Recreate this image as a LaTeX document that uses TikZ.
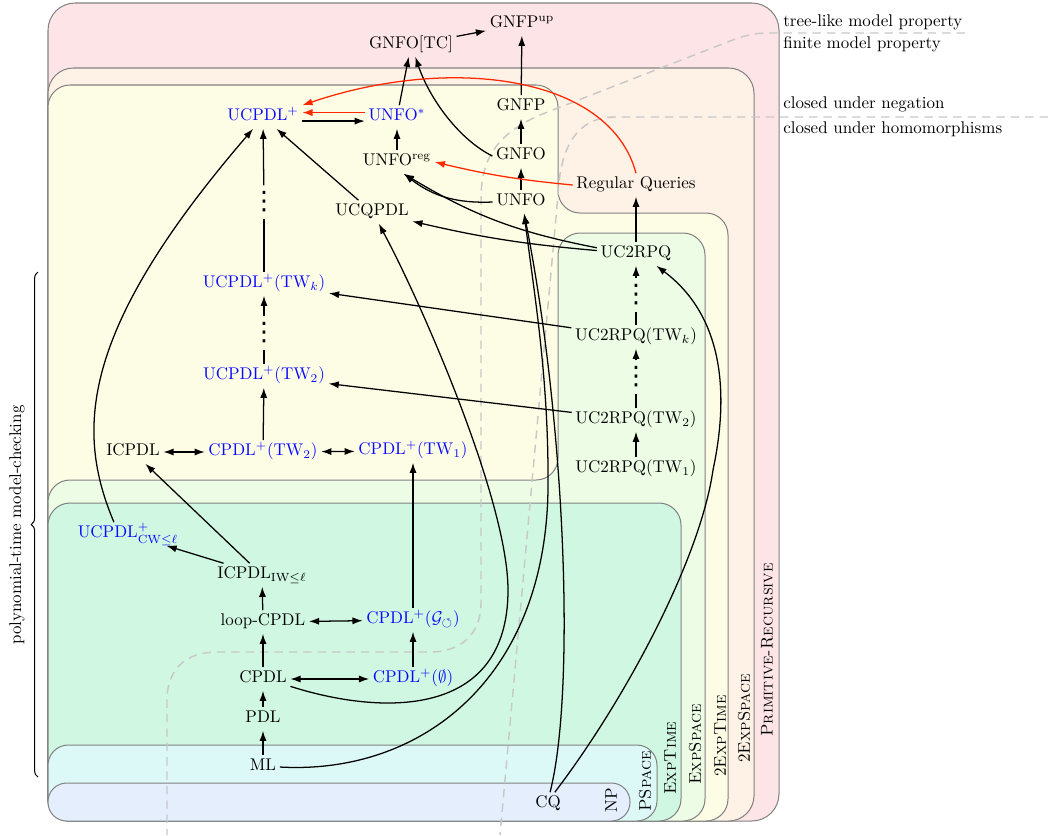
\documentclass[tikz,border=0pt]{standalone}
\usepackage{amssymb}
\usepackage{fontspec}
\newfontfamily\djv{DejaVu Sans}
\usetikzlibrary{arrows.meta,decorations.pathreplacing}
\definecolor{cPR}{RGB}{253,228,230}
\definecolor{cESb}{RGB}{254,241,229}
\definecolor{cETb}{RGB}{253,253,229}
\definecolor{cES}{RGB}{237,253,229}
\definecolor{cET}{RGB}{207,247,226}
\definecolor{cPS}{RGB}{221,249,247}
\definecolor{cNP}{RGB}{228,238,253}
\definecolor{bordergray}{RGB}{130,130,130}
\definecolor{dashgray}{RGB}{200,200,200}
\definecolor{myred}{RGB}{255,40,0}
\definecolor{myblue}{RGB}{10,10,255}
\begin{document}
\begin{tikzpicture}[x=0.59pt,y=-0.59pt,
  lbl/.style={inner sep=2pt, text height=7pt, text depth=2.5pt},
  blu/.style={lbl, text=myblue},
  dotsnode/.style={inner sep=3.5pt, font=\djv\fontsize{15}{15}\selectfont},
  ar/.style={-{Latex[length=6pt,width=4.2pt]}, line width=0.75pt},
  dar/.style={{Latex[length=6pt,width=4.2pt]}-{Latex[length=6pt,width=4.2pt]}, line width=0.75pt},
  rar/.style={ar, draw=myred},
  plain/.style={line width=0.75pt},
  region/.style={draw=bordergray, line width=0.6pt},
  dashline/.style={draw=dashgray, dash pattern=on 5pt off 3.5pt, line width=0.85pt},
  cls/.style={rotate=90, anchor=west, inner sep=0pt},
  side/.style={anchor=west, inner sep=0pt}
]
\useasboundingbox (0,0) rectangle (1050,835);

% complexity regions
\draw[region, fill=cPR, rounded corners=16pt] (48,3) rectangle (779,821);
\draw[region, fill=cESb, rounded corners=15pt] (48,68) rectangle (754,821);
\draw[region, fill=cETb, rounded corners=13pt] (48,85) -- (558,85) -- (558,213) -- (728,213) -- (728,821) -- (48,821) -- cycle;
\draw[region, fill=cES, rounded corners=13pt] (48,821) -- (48,480) -- (558,480) -- (558,233) -- (705,233) -- (705,821) -- cycle;
\draw[region, fill=cET, rounded corners=13pt] (48,503) rectangle (681,821);
\draw[region, fill=cPS, rounded corners=12pt] (48,745) rectangle (657,821);
\draw[region, fill=cNP, rounded corners=11pt] (48,783) rectangle (630,821);

\node[cls] (lNP) at (611,813) {NP};
\node[cls] (lPS) at (645,812) {\textsc{PSpace}};
\node[cls] (lET) at (670,795) {\textsc{ExpTime}};
\node[cls] (lES) at (695,785) {\textsc{ExpSpace}};
\node[cls] (lETb) at (720,777) {2\textsc{ExpTime}};
\node[cls] (lESb) at (744,763) {2\textsc{ExpSpace}};
\node[cls] (lPR) at (767,737) {\textsc{Primitive-Recursive}};

% property boundaries
\draw[dashline] (965,33) -- (770,33) .. controls (755,33) and (745,35) .. (725,43) -- (540,115) .. controls (495,135) and (481,160) .. (481,200) -- (481,603) .. controls (481,635) and (460,652) .. (430,652) -- (217,652) .. controls (185,652) and (167,670) .. (167,700) -- (167,835);
\draw[dashline] (1048,117) -- (615,117) .. controls (575,117) and (560,150) .. (558,195) -- (500,835);

\node[side] (tlm) at (783,22) {tree-like model property};
\node[side] (fmp) at (783,44) {finite model property};
\node[side] (cun) at (783,104) {closed under negation};
\node[side] (cuh) at (783,129) {closed under homomorphisms};

% brace
\draw[decorate, decoration={brace, amplitude=4pt}, line width=0.6pt] (38,777) -- (38,272);
\node[rotate=90] (poly) at (17,525) {polynomial-time model-checking};

% nodes
\node[lbl] (gnfotc) at (411,45) {GNFO[TC]};
\node[lbl] (gnfpup) at (522,24) {GNFP$^{\mathrm{up}}$};
\node[blu] (ucpdlp) at (263,117) {UCPDL$^+$};
\node[blu] (unfostar) at (397,117) {UNFO$^*$};
\node[lbl] (gnfp) at (521,107) {GNFP};
\node[lbl] (unforeg) at (397,162) {UNFO$^{\mathrm{reg}}$};
\node[lbl] (gnfo) at (521,156) {GNFO};
\node[lbl] (regq) at (636,185) {Regular Queries};
\node[lbl] (unfo) at (521,202) {UNFO};
\node[lbl] (ucqpdl) at (372,212) {UCQPDL};
\node[lbl] (uc2rpq) at (636,254) {UC2RPQ};
\node[dotsnode] (d1) at (264,202) {⋮};
\node[blu] (ucpdlptwk) at (264,284) {UCPDL$^+$(TW$_k$)};
\node[dotsnode] (d2) at (264,333) {⋮};
\node[blu] (ucpdlptw2) at (264,376) {UCPDL$^+$(TW$_2$)};
\node[dotsnode] (d3) at (636,295) {⋮};
\node[lbl] (uc2rpqtwk) at (636,337) {UC2RPQ(TW$_k$)};
\node[dotsnode] (d4) at (636,377) {⋮};
\node[lbl] (uc2rpqtw2) at (636,420) {UC2RPQ(TW$_2$)};
\node[lbl] (uc2rpqtw1) at (636,469) {UC2RPQ(TW$_1$)};
\node[lbl] (icpdl) at (133,452) {ICPDL};
\node[blu] (cpdlptw2) at (263,452) {CPDL$^+$(TW$_2$)};
\node[blu] (cpdlptw1) at (413,451) {CPDL$^+$(TW$_1$)};
\node[blu] (ucpdlpcw) at (128,534) {UCPDL$^+_{\mathrm{CW}\leq\ell}$};
\node[lbl] (icpdliw) at (262,575) {ICPDL$_{\mathrm{IW}\leq\ell}$};
\node[lbl] (loopcpdl) at (263,622) {loop-CPDL};
\node[blu] (cpdlpg) at (413,620) {CPDL$^+$($\mathcal{G}_{\circlearrowleft}$)};
\node[lbl] (cpdl) at (263,679) {CPDL};
\node[blu] (cpdlpe) at (413,679) {CPDL$^+$($\emptyset$)};
\node[lbl] (pdl) at (263,719) {PDL};
\node[lbl] (ml) at (263,767) {ML};
\node[lbl] (cq) at (548,804) {CQ};

% connectors
\draw[ar] (gnfotc) -- (gnfpup);
\draw[ar] (gnfp) -- (gnfpup);
\draw[ar] (unfostar) -- (gnfotc);
\draw[ar] (gnfo.west) .. controls (460,140) and (430,100) .. (gnfotc.290);
\draw[ar] (gnfo) -- (gnfp);
\draw[ar] (unfo) -- (gnfo);
\draw[ar] (unforeg) -- (unfostar);
\draw[ar] ([yshift=-2.4pt]ucpdlp.east) -- ([yshift=-2.4pt]unfostar.west);
\draw[rar] ([yshift=2.6pt]unfostar.west) -- ([yshift=2.6pt]ucpdlp.east);
\draw[rar] (regq.north) .. controls (610,75) and (450,55) .. (ucpdlp.north east);
\draw[rar] (regq.west) to[bend left=4] (unforeg.east);
\draw[ar] (unfo.west) to[bend left=20] (unforeg.-60);
\draw[ar] (uc2rpq) to[bend left=10] (unforeg.-60);
\draw[ar] (uc2rpq) to[bend left=4] (ucqpdl);
\draw[ar] (uc2rpq) -- (regq);
\draw[ar] (ucqpdl) -- (ucpdlp);
\draw[plain] (ucpdlptwk) -- (d1);
\draw[ar] (d1) -- (ucpdlp);
\draw[plain] (ucpdlptw2) -- (d2);
\draw[ar] (d2) -- (ucpdlptwk);
\draw[plain] (uc2rpqtwk) -- (d3);
\draw[ar] (d3) -- (uc2rpq);
\draw[plain] (uc2rpqtw2) -- (d4);
\draw[ar] (d4) -- (uc2rpqtwk);
\draw[ar] (uc2rpqtw1) -- (uc2rpqtw2);
\draw[ar] (uc2rpqtwk) -- (ucpdlptwk);
\draw[ar] (uc2rpqtw2) -- (ucpdlptw2);
\draw[ar] (cpdlptw2) -- (ucpdlptw2);
\draw[dar] (icpdl) -- (cpdlptw2);
\draw[dar] (cpdlptw2) -- (cpdlptw1);
\draw[ar] (cpdlpg) -- (cpdlptw1);
\draw[ar] (icpdliw) -- (icpdl);
\draw[ar] (icpdliw) -- (ucpdlpcw);
\draw[ar] (ucpdlpcw.140) .. controls (75,430) and (80,330) .. (ucpdlp.-130);
\draw[ar] (loopcpdl) -- (icpdliw);
\draw[dar] (loopcpdl) -- (cpdlpg);
\draw[ar] (cpdl) -- (loopcpdl);
\draw[dar] (cpdl) -- (cpdlpe);
\draw[ar] (cpdlpe) -- (cpdlpg);
\draw[ar] (pdl) -- (cpdl);
\draw[ar] (ml) -- (pdl);
\draw[ar] (cpdl.-15) .. controls (380,715) and (508,720) .. (508,590) .. controls (508,500) and (420,300) .. (ucqpdl.-60);
\draw[ar] (ml.east) .. controls (420,775) and (545,680) .. (548,490) .. controls (549,380) and (535,300) .. (unfo.-75);
\draw[ar] (cq.80) .. controls (576,690) and (565,420) .. (unfo.-75);
\draw[ar] (cq.60) .. controls (625,700) and (700,560) .. (713,470) .. controls (730,390) and (722,315) .. (uc2rpq.-30);
\end{tikzpicture}
\end{document}
